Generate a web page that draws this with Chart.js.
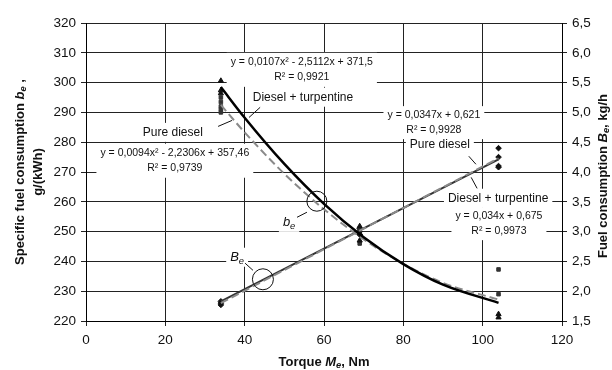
<!DOCTYPE html>
<html>
<head>
<meta charset="utf-8">
<script src="https://cdn.jsdelivr.net/npm/chart.js@4.4.1/dist/chart.umd.min.js"></script>
<style>
  html, body { margin: 0; padding: 0; background: #fff; }
</style>
</head>
<body>
<canvas id="fuelChart" width="612" height="370"></canvas>
<script>
// AXES
const torqueTicks = [0, 20, 40, 60, 80, 100, 120];
const beTicks = [220, 230, 240, 250, 260, 270, 280, 290, 300, 310, 320];
const BeTicks = [1.5, 2.0, 2.5, 3.0, 3.5, 4.0, 4.5, 5.0, 5.5, 6.0, 6.5];
const BeTickLabels = ["1,5", "2,0", "2,5", "3,0", "3,5", "4,0", "4,5", "5,0", "5,5", "6,0", "6,5"];

// b_e TREND CURVES
const curveX = [34, 40, 50, 60, 70, 80, 90, 104];
const beTurpCurve = [298.5, 288.2, 272.7, 259.3, 248.1, 239.1, 232.2, 226.1];
const beDieselCurve = [292.5, 283.3, 269.4, 257.5, 247.4, 239.2, 232.8, 227.2];

// B_e TREND LINES
const lineX = [34, 104];
const BeTurpLine = [1.83, 4.21];
const BeDieselLine = [1.80, 4.23];

// MEASURED POINTS
const beTurpX = [34, 34, 34, 69, 69, 69, 104, 104];
const beTurpY = [300.6, 297.4, 296.4, 251.8, 249.5, 247.0, 222.3, 221.2];
const beDieselX = [34, 34, 34, 34, 34, 69, 69, 104, 104];
const beDieselY = [295.0, 293.5, 292.0, 291.0, 290.0, 250.5, 246.0, 237.3, 229.0];
const BeX = [34, 34, 34, 69, 69, 69, 104, 104, 104, 104];
const BeY = [1.83, 1.80, 1.77, 3.05, 3.00, 2.95, 4.40, 4.25, 4.10, 4.08];

const FONT = '"Liberation Sans", Arial, sans-serif';
const pts = (xs, ys) => xs.map((x, i) => ({ x: x, y: ys[i] }));

/* ================= TEXT HELPERS ================= */

function fontOf(flags, size) {
  const s = flags.includes("s") ? size * 0.72 : size;
  return (flags.includes("i") ? "italic " : "") + (flags.includes("b") ? "bold " : "") + s + "px " + FONT;
}

function runsWidth(ctx, runs, size) {
  let w = 0;
  runs.forEach(r => { ctx.font = fontOf(r[1], size); w += ctx.measureText(r[0]).width; });
  return w;
}

function drawRuns(ctx, runs, x, y, size, rot) {
  ctx.save();
  ctx.translate(x, y);
  ctx.rotate(rot || 0);
  let cx = -runsWidth(ctx, runs, size) / 2;
  ctx.textBaseline = "middle";
  ctx.textAlign = "left";
  ctx.fillStyle = "#111";
  runs.forEach(r => {
    ctx.font = fontOf(r[1], size);
    ctx.fillText(r[0], cx, r[1].includes("s") ? size * 0.3 : 0);
    cx += ctx.measureText(r[0]).width;
  });
  ctx.restore();
}

// labels on the plot, anchored in data units (first line centre)
const notes = [
  { x: 54.4, y: 306.8, size: 10.5, lh: 15, lines: [[["y = 0,0107x² - 2,5112x + 371,5", ""]], [["R² = 0,9921", ""]]] },
  { x: 54.7, y: 295.1, size: 12, lh: 15, lines: [[["Diesel + turpentine", ""]]] },
  { x: 21.9, y: 283.3, size: 12, lh: 15, lines: [[["Pure diesel", ""]]] },
  { x: 22.4, y: 276.3, size: 10.5, lh: 15, lines: [[["y = 0,0094x² - 2,2306x + 357,46", ""]], [["R² = 0,9739", ""]]] },
  { x: 87.7, y: 289.0, size: 10.5, lh: 14.5, lines: [[["y = 0,0347x + 0,621", ""]], [["R² = 0,9928", ""]]] },
  { x: 89.2, y: 279.3, size: 12, lh: 15, lines: [[["Pure diesel", ""]]] },
  { x: 103.9, y: 261.2, size: 12, lh: 15, lines: [[["Diesel + turpentine", ""]]] },
  { x: 104.1, y: 255.1, size: 10.5, lh: 14.5, lines: [[["y = 0,034x + 0,675", ""]], [["R² = 0,9973", ""]]] },
  { x: 51.2, y: 253.1, size: 13, lh: 15, lines: [[["b", "i"], ["e", "is"]]] },
  { x: 38.1, y: 241.4, size: 13, lh: 15, lines: [[["B", "i"], ["e", "is"]]] }
];
const leaders = [
  [43.9, 291.7, 41.1, 288.3],
  [33.3, 285.3, 36.8, 287.3],
  [96.5, 275.3, 98.3, 272.6],
  [97.1, 268.2, 98.6, 264.5],
  [53.2, 254.8, 55.7, 256.5],
  [40.1, 239.4, 42.1, 237.0]
];
const rings = [[58.2, 260.2, 10], [44.6, 234.0, 10.5]];

const fuelNotes = {
  id: "fuelNotes",
  beforeDatasetsDraw(chart) {
    const ctx = chart.ctx, sx = chart.scales.x, sy = chart.scales.y;
    notes.forEach(n => {
      const px = sx.getPixelForValue(n.x), py = sy.getPixelForValue(n.y);
      let w = 0;
      n.lines.forEach(l => { w = Math.max(w, runsWidth(ctx, l, n.size)); });
      ctx.fillStyle = "#fff";
      ctx.fillRect(px - w / 2 - 4, py - n.lh / 2 - 2, w + 8, n.lines.length * n.lh + 4);
    });
    notes.forEach(n => {
      const px = sx.getPixelForValue(n.x), py = sy.getPixelForValue(n.y);
      n.lines.forEach((l, i) => drawRuns(ctx, l, px, py + i * n.lh, n.size, 0));
    });
  },
  afterDatasetsDraw(chart) {
    const ctx = chart.ctx, sx = chart.scales.x, sy = chart.scales.y;
    ctx.save();
    ctx.strokeStyle = "#111";
    ctx.lineWidth = 1;
    leaders.forEach(l => {
      ctx.beginPath();
      ctx.moveTo(sx.getPixelForValue(l[0]), sy.getPixelForValue(l[1]));
      ctx.lineTo(sx.getPixelForValue(l[2]), sy.getPixelForValue(l[3]));
      ctx.stroke();
    });
    rings.forEach(r => {
      ctx.beginPath();
      ctx.arc(sx.getPixelForValue(r[0]), sy.getPixelForValue(r[1]), r[2], 0, Math.PI * 2);
      ctx.stroke();
    });
    ctx.restore();
  },
  afterDraw(chart) {
    const ctx = chart.ctx;
    drawRuns(ctx, [["Specific fuel consumption ", "b"], ["b", "bi"], ["e", "bis"], [" ,", "b"]], 20, 172, 13, -Math.PI / 2);
    drawRuns(ctx, [["g/(kWh)", "b"]], 38.5, 172, 13, -Math.PI / 2);
    drawRuns(ctx, [["Fuel consumption ", "b"], ["B", "bi"], ["e", "bis"], [", kg/h", "b"]], 603, 176, 13, -Math.PI / 2);
    drawRuns(ctx, [["Torque ", "b"], ["M", "bi"], ["e", "bis"], [", Nm", "b"]], 324, 362, 13, 0);
  }
};

/* ================= CHART ================= */

const tickFont = { family: FONT, size: 13.5 };

new Chart(document.getElementById("fuelChart"), {
  type: "scatter",
  data: {
    datasets: [
      { label: "b_e diesel + turpentine", data: pts(curveX, beTurpCurve), showLine: true,
        borderColor: "#000", borderWidth: 2.5, pointRadius: 0, cubicInterpolationMode: "monotone", yAxisID: "y", order: 1 },
      { label: "b_e pure diesel", data: pts(curveX, beDieselCurve), showLine: true,
        borderColor: "#8a8a8a", borderWidth: 2, borderDash: [8, 4], pointRadius: 0, cubicInterpolationMode: "monotone", yAxisID: "y", order: 2 },
      { label: "B_e pure diesel", data: pts(lineX, BeDieselLine), showLine: true,
        borderColor: "#8a8a8a", borderWidth: 2, borderDash: [8, 4], pointRadius: 0, yAxisID: "y2", order: 3 },
      { label: "B_e diesel + turpentine", data: pts(lineX, BeTurpLine), showLine: true,
        borderColor: "#333", borderWidth: 2, pointRadius: 0, yAxisID: "y2", order: 4 },
      { label: "b_e pts turp", data: pts(beTurpX, beTurpY), pointStyle: "triangle", pointRadius: 3,
        backgroundColor: "#111", borderColor: "#111", yAxisID: "y", order: 5 },
      { label: "b_e pts diesel", data: pts(beDieselX, beDieselY), pointStyle: "rect", pointRadius: 2.5,
        backgroundColor: "#333", borderColor: "#333", yAxisID: "y", order: 6 },
      { label: "B_e pts", data: pts(BeX, BeY), pointStyle: "rectRot", pointRadius: 2.8,
        backgroundColor: "#111", borderColor: "#111", yAxisID: "y2", order: 7 }
    ]
  },
  options: {
    responsive: false,
    animation: false,
    layout: { padding: { top: 23, left: 0, right: 0, bottom: 0 } },
    plugins: { legend: { display: false }, tooltip: { enabled: false } },
    scales: {
      x: {
        type: "linear", min: 0, max: 120,
        afterBuildTicks: s => { s.ticks = torqueTicks.map(v => ({ value: v })); },
        afterFit: s => { s.height = 49; },
        grid: { color: "#222", lineWidth: 1, tickLength: 5 },
        border: { color: "#000", width: 1 },
        ticks: { font: tickFont, color: "#111", padding: 6, maxRotation: 0 }
      },
      y: {
        position: "left", min: 220, max: 320,
        afterBuildTicks: s => { s.ticks = beTicks.map(v => ({ value: v })); },
        afterFit: s => { s.width = 86; },
        grid: { color: "#222", lineWidth: 1, tickLength: 5 },
        border: { color: "#000", width: 1 },
        ticks: { font: tickFont, color: "#111", padding: 5 }
      },
      y2: {
        position: "right", min: 1.5, max: 6.5,
        afterBuildTicks: s => { s.ticks = BeTicks.map(v => ({ value: v })); },
        afterFit: s => { s.width = 50; },
        grid: { drawOnChartArea: false, color: "#222", tickLength: 5 },
        border: { color: "#000", width: 1 },
        ticks: { font: tickFont, color: "#111", padding: 5, callback: (v, i) => BeTickLabels[i] }
      }
    }
  },
  plugins: [fuelNotes]
});
</script>
</body>
</html>
